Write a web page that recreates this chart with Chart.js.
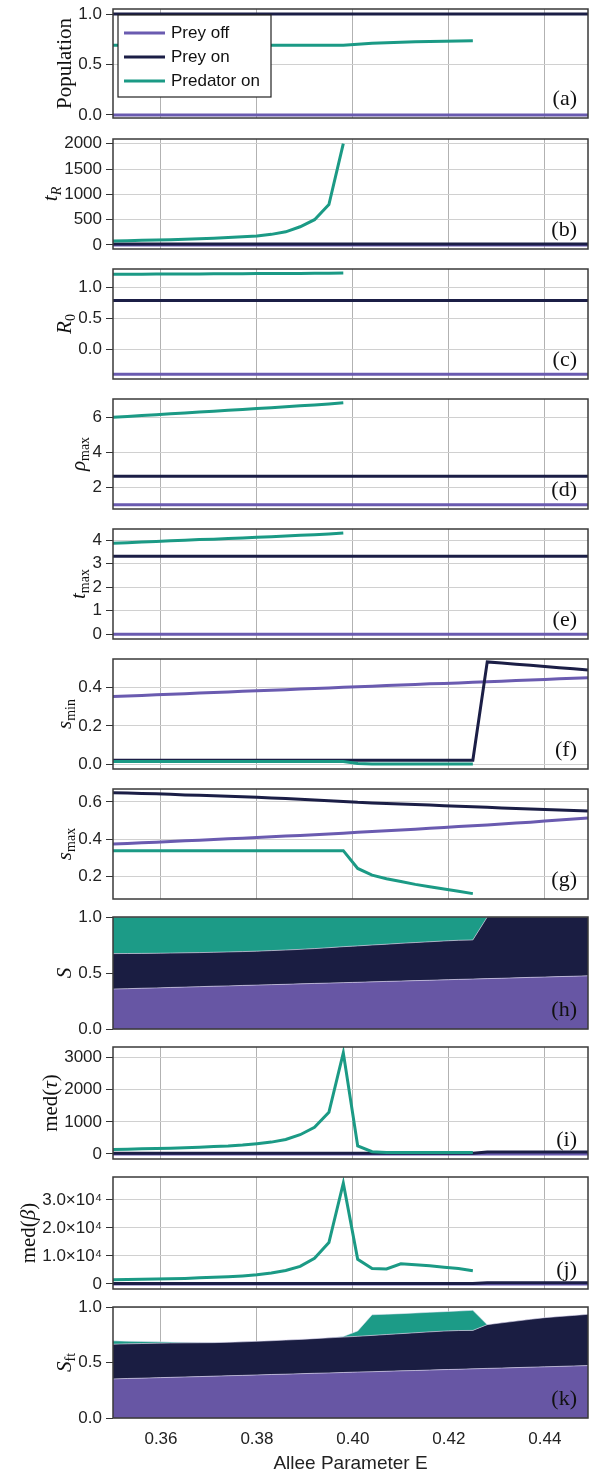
<!DOCTYPE html>
<html>
<head>
<meta charset="utf-8">
<script src="https://cdn.jsdelivr.net/npm/chart.js@4.4.0/dist/chart.umd.min.js"></script>
<style>
  html, body { margin: 0; padding: 0; background: #fff; }
  #wrap { position: relative; width: 589px; height: 1475px; overflow: hidden; }
  #wrap canvas { position: absolute; left: 0; }
</style>
</head>
<body>
<div id="wrap"></div>
<script>
// Allee parameter sweep
const E = [0.350,0.353,0.356,0.359,0.362,0.365,0.368,0.371,0.374,0.377,
           0.380,0.383,0.386,0.389,0.392,0.395,0.398,0.401,0.404,0.407,
           0.410,0.413,0.416,0.419,0.422,0.425,0.428,0.431,0.434,0.437,
           0.440,0.443,0.446,0.449];
const xTickVals = [0.36, 0.38, 0.40, 0.42, 0.44];
const xTickLabels = ['0.36', '0.38', '0.40', '0.42', '0.44'];
const seriesNames = ['Prey off', 'Prey on', 'Predator on'];

// (a) population
const popPreyOff = [0,0,0,0,0,0,0,0,0,0,0,0,0,0,0,0,0,0,0,0,0,0,0,0,0,0,0,0,0,0,0,0,0,0];
const popPreyOn  = [1,1,1,1,1,1,1,1,1,1,1,1,1,1,1,1,1,1,1,1,1,1,1,1,1,1,1,1,1,1,1,1,1,1];
const popPredOn  = [0.69,0.69,0.69,0.69,0.69,0.69,0.69,0.69,0.69,0.69,0.69,0.69,0.69,0.69,0.69,0.69,0.69,
                    0.70,0.71,0.715,0.72,0.725,0.728,0.731,0.733,0.735,
                    null,null,null,null,null,null,null,null];
const popTicks = [0, 0.5, 1.0], popLabels = ['0.0', '0.5', '1.0'];

// (b) t_R
const tRPreyOff = [0,0,0,0,0,0,0,0,0,0,0,0,0,0,0,0,0,0,0,0,0,0,0,0,0,0,0,0,0,0,0,0,0,0];
const tRPreyOn  = [20,20,20,20,20,20,20,20,20,20,20,20,20,20,20,20,20,20,20,20,20,20,20,20,20,20,20,20,20,20,20,20,20,20];
const tRPredOn  = [80,85,92,98,105,113,122,133,146,161,180,210,260,360,500,800,2000,
                   null,null,null,null,null,null,null,null,null,null,null,null,null,null,null,null,null];
const tRTicks = [0, 500, 1000, 1500, 2000], tRLabels = ['0', '500', '1000', '1500', '2000'];

// (c) R_0
const r0PreyOff = [-0.405,-0.405,-0.405,-0.405,-0.405,-0.405,-0.405,-0.405,-0.405,-0.405,-0.405,-0.405,-0.405,-0.405,-0.405,-0.405,-0.405,
                   -0.405,-0.405,-0.405,-0.405,-0.405,-0.405,-0.405,-0.405,-0.405,-0.405,-0.405,-0.405,-0.405,-0.405,-0.405,-0.405,-0.405];
const r0PreyOn  = [0.79,0.79,0.79,0.79,0.79,0.79,0.79,0.79,0.79,0.79,0.79,0.79,0.79,0.79,0.79,0.79,0.79,
                   0.79,0.79,0.79,0.79,0.79,0.79,0.79,0.79,0.79,0.79,0.79,0.79,0.79,0.79,0.79,0.79,0.79];
const r0PredOn  = [1.215,1.216,1.217,1.218,1.219,1.220,1.221,1.222,1.223,1.225,1.226,1.227,1.228,1.229,1.231,1.233,1.235,
                   null,null,null,null,null,null,null,null,null,null,null,null,null,null,null,null,null];
const r0Ticks = [0, 0.5, 1.0], r0Labels = ['0.0', '0.5', '1.0'];

// (d) rho_max
const rhoPreyOff = [1,1,1,1,1,1,1,1,1,1,1,1,1,1,1,1,1,1,1,1,1,1,1,1,1,1,1,1,1,1,1,1,1,1];
const rhoPreyOn  = [2.63,2.63,2.63,2.63,2.63,2.63,2.63,2.63,2.63,2.63,2.63,2.63,2.63,2.63,2.63,2.63,2.63,
                    2.63,2.63,2.63,2.63,2.63,2.63,2.63,2.63,2.63,2.63,2.63,2.63,2.63,2.63,2.63,2.63,2.63];
const rhoPredOn  = [6.00,6.05,6.10,6.15,6.20,6.25,6.30,6.35,6.40,6.45,6.50,6.55,6.60,6.66,6.71,6.77,6.83,
                    null,null,null,null,null,null,null,null,null,null,null,null,null,null,null,null,null];
const rhoTicks = [2, 4, 6], rhoLabels = ['2', '4', '6'];

// (e) t_max
const tmaxPreyOff = [0,0,0,0,0,0,0,0,0,0,0,0,0,0,0,0,0,0,0,0,0,0,0,0,0,0,0,0,0,0,0,0,0,0];
const tmaxPreyOn  = [3.31,3.31,3.31,3.31,3.31,3.31,3.31,3.31,3.31,3.31,3.31,3.31,3.31,3.31,3.31,3.31,3.31,
                     3.31,3.31,3.31,3.31,3.31,3.31,3.31,3.31,3.31,3.31,3.31,3.31,3.31,3.31,3.31,3.31,3.31];
const tmaxPredOn  = [3.87,3.89,3.92,3.94,3.97,3.99,4.02,4.04,4.07,4.09,4.12,4.14,4.17,4.20,4.23,4.26,4.30,
                     null,null,null,null,null,null,null,null,null,null,null,null,null,null,null,null,null];
const tmaxTicks = [0, 1, 2, 3, 4], tmaxLabels = ['0', '1', '2', '3', '4'];

// (f) s_min
const sminPreyOff = [0.352,0.355,0.358,0.361,0.364,0.367,0.370,0.373,0.376,0.379,
                     0.382,0.385,0.388,0.391,0.394,0.397,0.400,0.403,0.406,0.409,
                     0.412,0.415,0.418,0.420,0.423,0.426,0.429,0.432,0.435,0.438,
                     0.441,0.444,0.447,0.450];
const sminPreyOn  = [0.022,0.022,0.022,0.022,0.022,0.022,0.022,0.022,0.022,0.022,0.022,0.022,0.022,
                     0.022,0.022,0.022,0.022,0.022,0.022,0.022,0.022,0.022,0.022,0.022,0.022,0.022,
                     0.532,0.526,0.520,0.514,0.508,0.502,0.496,0.490];
const sminPredOn  = [0.015,0.015,0.015,0.015,0.015,0.015,0.015,0.015,0.015,0.015,0.015,0.015,0.015,0.015,0.015,0.015,0.015,
                     0.004,0.002,0.002,0.002,0.002,0.002,0.002,0.002,0.002,
                     null,null,null,null,null,null,null,null];
const sminTicks = [0, 0.2, 0.4], sminLabels = ['0.0', '0.2', '0.4'];

// (g) s_max
const smaxPreyOff = [0.373,0.376,0.380,0.383,0.387,0.390,0.393,0.397,0.401,0.404,
                     0.408,0.412,0.416,0.419,0.423,0.427,0.431,0.436,0.440,0.444,
                     0.449,0.453,0.458,0.462,0.467,0.471,0.476,0.481,0.486,0.491,
                     0.497,0.502,0.508,0.514];
const smaxPreyOn  = [0.650,0.648,0.646,0.644,0.641,0.638,0.636,0.633,0.631,0.628,
                     0.625,0.622,0.619,0.615,0.611,0.607,0.603,0.598,0.595,0.592,
                     0.589,0.586,0.583,0.580,0.577,0.574,0.571,0.568,0.565,0.562,
                     0.559,0.556,0.554,0.551];
const smaxPredOn  = [0.337,0.337,0.337,0.337,0.337,0.337,0.337,0.337,0.337,0.337,0.337,0.337,0.337,0.337,0.337,0.337,0.337,
                     0.241,0.205,0.185,0.170,0.155,0.142,0.130,0.118,0.105,
                     null,null,null,null,null,null,null,null];
const smaxTicks = [0.2, 0.4, 0.6], smaxLabels = ['0.2', '0.4', '0.6'];

// (h) S, share of each outcome
const sPreyOff = [0.357,0.360,0.364,0.367,0.371,0.374,0.378,0.382,0.385,0.389,
                  0.392,0.396,0.399,0.403,0.407,0.410,0.414,0.417,0.421,0.425,
                  0.428,0.432,0.435,0.439,0.443,0.446,0.450,0.453,0.457,0.461,
                  0.464,0.468,0.471,0.475];
const sPreyOn  = [0.316,0.314,0.311,0.309,0.307,0.306,0.304,0.303,0.303,0.302,
                  0.303,0.304,0.306,0.308,0.311,0.316,0.321,0.325,0.329,0.332,
                  0.337,0.340,0.344,0.347,0.349,0.349,0.550,0.547,0.543,0.539,
                  0.536,0.532,0.529,0.525];
const sPredOn  = [0.327,0.326,0.325,0.324,0.322,0.320,0.318,0.315,0.312,0.309,
                  0.305,0.300,0.295,0.289,0.282,0.274,0.265,0.258,0.250,0.243,
                  0.235,0.228,0.221,0.214,0.208,0.205,0,0,0,0,
                  0,0,0,0];
const sTicks = [0, 0.5, 1.0], sLabels = ['0.0', '0.5', '1.0'];

// (i) med(tau)
const tauPreyOff = [0,0,0,0,0,0,0,0,0,0,0,0,0,0,0,0,0,0,0,0,0,0,0,0,0,0,0,0,0,0,0,0,0,0];
const tauPreyOn  = [25,25,25,25,25,25,25,25,25,25,25,25,25,25,25,25,25,25,25,25,25,25,25,25,25,25,
                    60,60,60,60,60,60,60,60];
const tauPredOn  = [140,150,160,170,180,195,210,230,250,280,320,370,450,600,830,1300,3150,
                    250,70,50,50,50,50,50,50,50,
                    null,null,null,null,null,null,null,null];
const tauTicks = [0, 1000, 2000, 3000], tauLabels = ['0', '1000', '2000', '3000'];

// (j) med(beta)
const betaPreyOff = [0,0,0,0,0,0,0,0,0,0,0,0,0,0,0,0,0,0,0,0,0,0,0,0,0,0,0,0,0,0,0,0,0,0];
const betaPreyOn  = [150,150,150,150,150,150,150,150,150,150,150,150,150,150,150,150,150,150,150,150,150,150,150,150,150,150,
                     480,480,480,480,480,480,480,480];
const betaPredOn  = [1500,1600,1700,1800,1900,2000,2200,2400,2600,2900,3300,3900,4800,6300,9200,14800,36000,
                     8800,5500,5400,7200,6900,6500,6000,5500,4700,
                     null,null,null,null,null,null,null,null];
const betaTicks = [0, 10000, 20000, 30000], betaLabels = ['0', '1.0×10⁴', '2.0×10⁴', '3.0×10⁴'];

// (k) S_ft, share of each outcome
const sftPreyOff = [0.352,0.356,0.359,0.363,0.366,0.370,0.373,0.377,0.381,0.384,
                    0.388,0.392,0.395,0.399,0.403,0.406,0.410,0.414,0.417,0.421,
                    0.425,0.428,0.432,0.436,0.439,0.443,0.447,0.450,0.454,0.458,
                    0.461,0.465,0.469,0.472];
const sftPreyOn  = [0.313,0.312,0.312,0.311,0.310,0.307,0.305,0.302,0.301,0.302,
                    0.303,0.304,0.307,0.309,0.312,0.316,0.319,0.322,0.327,0.331,
                    0.335,0.340,0.344,0.347,0.349,0.346,0.394,0.407,0.419,0.431,
                    0.443,0.449,0.455,0.462];
const sftPredOn  = [0.030,0.024,0.019,0.013,0.008,0.005,0.003,0.001,0,0,
                    0,0,0,0,0,0,0.006,0.048,0.186,0.183,
                    0.180,0.178,0.176,0.175,0.176,0.181,0,0,0,0,
                    0,0,0,0];
const sftTicks = [0, 0.5, 1.0], sftLabels = ['0.0', '0.5', '1.0'];

// ---------------------------------------------------------------
const LINE = ['#6a5bb0', '#1b1e46', '#1b9a85'];
const FILL = ['#6756a4', '#1a1d42', '#1c9b87'];
const AXIS_W = 113, TICK_LEN = 7, TICK_PAD = 4;
const TICK_FONT = '"Liberation Sans", Arial, sans-serif';
const SERIF = '"Liberation Serif", "DejaVu Serif", serif';

Chart.defaults.font.family = TICK_FONT;

const panels = [
  { tag: '(a)', top: 9,    h: 109, min: -0.03, max: 1.05,  ticks: popTicks,  labels: popLabels,  series: [popPreyOff, popPreyOn, popPredOn], legend: true,
    title: [['Population', 'r']] },
  { tag: '(b)', top: 139,  h: 110, min: -79,   max: 2093,  ticks: tRTicks,   labels: tRLabels,   series: [tRPreyOff, tRPreyOn, tRPredOn],
    title: [['t', 'i'], ['R', 'is']] },
  { tag: '(c)', top: 269,  h: 110, min: -0.48, max: 1.30,  ticks: r0Ticks,   labels: r0Labels,   series: [r0PreyOff, r0PreyOn, r0PredOn],
    title: [['R', 'i'], ['0', 'rs']] },
  { tag: '(d)', top: 399,  h: 110, min: 0.76,  max: 7.05,  ticks: rhoTicks,  labels: rhoLabels,  series: [rhoPreyOff, rhoPreyOn, rhoPredOn],
    title: [['ρ', 'i'], ['max', 'rs']] },
  { tag: '(e)', top: 529,  h: 110, min: -0.20, max: 4.47,  ticks: tmaxTicks, labels: tmaxLabels, series: [tmaxPreyOff, tmaxPreyOn, tmaxPredOn],
    title: [['t', 'i'], ['max', 'rs']] },
  { tag: '(f)', top: 659,  h: 110, min: -0.024, max: 0.547, ticks: sminTicks, labels: sminLabels, series: [sminPreyOff, sminPreyOn, sminPredOn],
    title: [['s', 'i'], ['min', 'rs']] },
  { tag: '(g)', top: 789,  h: 110, min: 0.076, max: 0.670, ticks: smaxTicks, labels: smaxLabels, series: [smaxPreyOff, smaxPreyOn, smaxPredOn],
    title: [['s', 'i'], ['max', 'rs']] },
  { tag: '(h)', top: 917,  h: 112, min: 0,     max: 1,     ticks: sTicks,    labels: sLabels,    series: [sPreyOff, sPreyOn, sPredOn], stacked: true,
    title: [['S', 'i']] },
  { tag: '(i)', top: 1047, h: 112, min: -156,  max: 3333,  ticks: tauTicks,  labels: tauLabels,  series: [tauPreyOff, tauPreyOn, tauPredOn],
    title: [['med(', 'r'], ['τ', 'i'], [')', 'r']] },
  { tag: '(j)', top: 1177, h: 112, min: -1786, max: 38214, ticks: betaTicks, labels: betaLabels, series: [betaPreyOff, betaPreyOn, betaPredOn],
    title: [['med(', 'r'], ['β', 'i'], [')', 'r']] },
  { tag: '(k)', top: 1307, h: 111, min: 0,     max: 1,     ticks: sftTicks,  labels: sftLabels,  series: [sftPreyOff, sftPreyOn, sftPredOn], stacked: true, bottom: true,
    title: [['S', 'i'], ['ft', 'rs']] }
];

function segFont(style) {
  const italic = style[0] === 'i' ? 'italic ' : '';
  const size = style.length > 1 ? 14 : 21;
  return italic + size + 'px ' + SERIF;
}

// frame, panel tag, legend and y-axis title
const decor = {
  id: 'decor',
  afterDatasetsDraw(chart, args, o) {
    const { ctx, chartArea: a } = chart;
    ctx.save();
    ctx.strokeStyle = '#3a3a3a';
    ctx.lineWidth = 1.5;
    ctx.strokeRect(a.left, a.top, a.right - a.left, a.bottom - a.top);

    ctx.fillStyle = '#111';
    ctx.font = '22px ' + SERIF;
    ctx.textAlign = 'right';
    ctx.textBaseline = 'alphabetic';
    ctx.fillText(o.tag, a.right - 11, a.bottom - 13);

    if (o.legend) {
      const x0 = a.left + 5, y0 = a.top + 6, w = 153, h = 82;
      ctx.fillStyle = '#fff';
      ctx.fillRect(x0, y0, w, h);
      ctx.strokeStyle = '#222';
      ctx.lineWidth = 1.2;
      ctx.strokeRect(x0, y0, w, h);
      ctx.font = '17px ' + TICK_FONT;
      ctx.textAlign = 'left';
      ctx.textBaseline = 'middle';
      chart.data.datasets.forEach((d, i) => {
        const y = y0 + 18 + i * 24;
        ctx.strokeStyle = d.borderColor;
        ctx.lineWidth = 3;
        ctx.beginPath();
        ctx.moveTo(x0 + 6, y);
        ctx.lineTo(x0 + 47, y);
        ctx.stroke();
        ctx.fillStyle = '#111';
        ctx.fillText(d.label, x0 + 53, y);
      });
    }

    const ys = chart.scales.y;
    ctx.font = '17px ' + TICK_FONT;
    let mw = 0;
    ys.ticks.forEach(t => { mw = Math.max(mw, ctx.measureText(String(t.label)).width); });
    const cx = a.left - TICK_LEN - TICK_PAD - mw - 13;
    const cy = (a.top + a.bottom) / 2;
    let total = 0;
    o.title.forEach(s => { ctx.font = segFont(s[1]); total += ctx.measureText(s[0]).width; });
    ctx.translate(cx, cy);
    ctx.rotate(-Math.PI / 2);
    ctx.fillStyle = '#111';
    ctx.textAlign = 'left';
    ctx.textBaseline = 'middle';
    let x = -total / 2;
    o.title.forEach(s => {
      ctx.font = segFont(s[1]);
      ctx.fillText(s[0], x, s[1].length > 1 ? 6 : 0);
      x += ctx.measureText(s[0]).width;
    });
    ctx.restore();
  }
};

// keep every plot area at the same fixed place inside its canvas
function noPad(s) {
  s.paddingTop = 0; s.paddingBottom = 0; s.paddingLeft = 0; s.paddingRight = 0;
}

const wrap = document.getElementById('wrap');

panels.forEach(p => {
  const padT = 12, padB = p.bottom ? 0 : 12, axisH = p.bottom ? 57 : 0;
  const H = padT + p.h + padB + axisH;
  const c = document.createElement('canvas');
  c.width = 589; c.height = H;
  c.style.width = '589px'; c.style.height = H + 'px';
  c.style.top = (p.top - padT) + 'px';
  wrap.appendChild(c);

  const datasets = p.series.map((vals, i) => {
    const d = {
      label: seriesNames[i],
      data: E.map((e, k) => ({ x: e, y: vals[k] })),
      pointRadius: 0,
      tension: 0,
      spanGaps: false
    };
    if (p.stacked) {
      Object.assign(d, {
        backgroundColor: FILL[i],
        borderColor: 'rgba(235,232,250,0.55)',
        borderWidth: 1,
        fill: i === 0 ? 'origin' : '-1'
      });
    } else {
      Object.assign(d, {
        borderColor: LINE[i],
        borderWidth: 3,
        fill: false,
        order: 2 - i
      });
    }
    return d;
  });

  new Chart(c, {
    type: 'line',
    data: { datasets },
    plugins: [decor],
    options: {
      responsive: false,
      animation: false,
      devicePixelRatio: 1,
      layout: { padding: { top: padT, bottom: padB, left: 0, right: 1 } },
      plugins: {
        legend: { display: false },
        tooltip: { enabled: false },
        decor: { tag: p.tag, legend: !!p.legend, title: p.title }
      },
      scales: {
        x: {
          type: 'linear',
          min: 0.35,
          max: 0.449,
          stacked: false,
          border: { display: false },
          grid: { color: '#b2b2b2', lineWidth: 1, drawTicks: false },
          afterBuildTicks: s => { s.ticks = xTickVals.map(v => ({ value: v })); },
          ticks: {
            display: !!p.bottom, autoSkip: false, maxRotation: 0, padding: 11,
            color: '#222', font: { size: 17 },
            callback: (v, i) => xTickLabels[i]
          },
          title: {
            display: !!p.bottom, text: 'Allee Parameter E', color: '#222',
            font: { size: 19 }, padding: { top: 0, bottom: 0 }
          },
          afterFit: s => { s.height = axisH; noPad(s); }
        },
        y: {
          min: p.min,
          max: p.max,
          stacked: !!p.stacked,
          border: { display: false },
          grid: { color: '#d0d0d0', lineWidth: 1, tickLength: TICK_LEN, tickColor: '#333' },
          afterBuildTicks: s => { s.ticks = p.ticks.map(v => ({ value: v })); },
          ticks: {
            autoSkip: false, padding: TICK_PAD, color: '#222', font: { size: 17 },
            callback: (v, i) => p.labels[i]
          },
          afterFit: s => { s.width = AXIS_W; noPad(s); }
        }
      }
    }
  });
});
</script>
</body>
</html>
